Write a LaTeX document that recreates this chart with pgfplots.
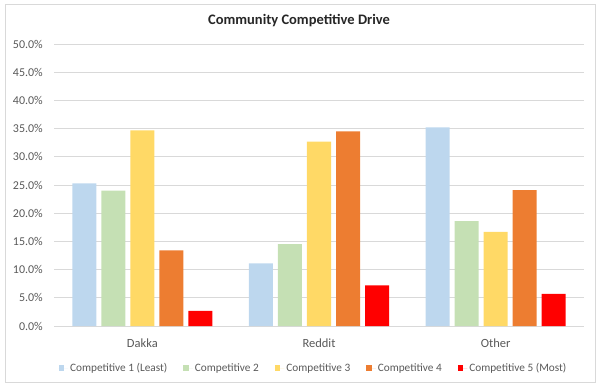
\documentclass[border=0pt]{standalone}
\usepackage{pgfplots}
\pgfplotsset{compat=1.18}
\usepackage{fontspec}
\setmainfont{Carlito}
\definecolor{cBlue}{HTML}{BDD7EE}
\definecolor{cGreen}{HTML}{C5E0B4}
\definecolor{cYellow}{HTML}{FFD966}
\definecolor{cOrange}{HTML}{ED7D31}
\definecolor{cRed}{HTML}{FF0000}
\definecolor{cGrid}{HTML}{D9D9D9}
\definecolor{cText}{HTML}{595959}
\begin{document}
\begin{tikzpicture}
\begin{axis}[
  scale only axis,
  width=530bp, height=282bp,
  ybar,
  bar width=0.136,
  ymin=0, ymax=50,
  ytick distance=5,
  xmin=-0.5, xmax=2.5,
  xtick={0,1,2},
  xticklabels={Dakka,Reddit,Other},
  axis line style={draw=none},
  major tick length=0pt,
  ymajorgrids,
  grid style={cGrid, line width=0.8bp},
  yticklabel={\pgfmathprintnumber[fixed,fixed zerofill,precision=1]{\tick}\%},
  /pgf/number format/assume math mode=true,
  yticklabel style={font=\fontsize{12bp}{14bp}\selectfont, text=cText, inner sep=0pt, anchor=east, xshift=-11bp},
  xticklabel style={font=\fontsize{12.5bp}{14bp}\selectfont, text=cText, inner sep=0pt, anchor=north, yshift=-13bp},
  title={Community Competitive Drive},
  title style={at={(axis description cs:0.4623,1.0613)}, anchor=center, font=\bfseries\fontsize{14.5bp}{16bp}\selectfont, text=black!85},
  legend columns=5,
  legend style={at={(axis description cs:0.4896,-0.149)}, anchor=center, draw=none, fill=none,
    font=\fontsize{11.3bp}{13bp}\selectfont, text=cText,
    /tikz/every odd column/.append style={column sep=0bp},
    /tikz/every even column/.append style={column sep=14bp}},
  legend image code/.code={\fill[#1] (0bp,-2.8bp) rectangle (5.6bp,2.8bp); \path (0bp,0bp) -- (9.5bp,0bp);},
]
\addplot[fill=cBlue, draw=none, bar shift=-0.3286] coordinates {(0,25.3) (1,11.1) (2,35.2)};
\addplot[fill=cGreen, draw=none, bar shift=-0.1643] coordinates {(0,24.0) (1,14.5) (2,18.6)};
\addplot[fill=cYellow, draw=none, bar shift=0] coordinates {(0,34.7) (1,32.7) (2,16.7)};
\addplot[fill=cOrange, draw=none, bar shift=0.1643] coordinates {(0,13.4) (1,34.5) (2,24.1)};
\addplot[fill=cRed, draw=none, bar shift=0.3286] coordinates {(0,2.7) (1,7.2) (2,5.7)};
\legend{Competitive 1 (Least),Competitive 2,Competitive 3,Competitive 4,Competitive 5 (Most)}
\end{axis}
\draw[cGrid, line width=0.8bp] (-49bp,-56bp) rectangle (541bp,322bp);
\path (-54bp,-61bp) rectangle (546bp,326bp);
\end{tikzpicture}
\end{document}
